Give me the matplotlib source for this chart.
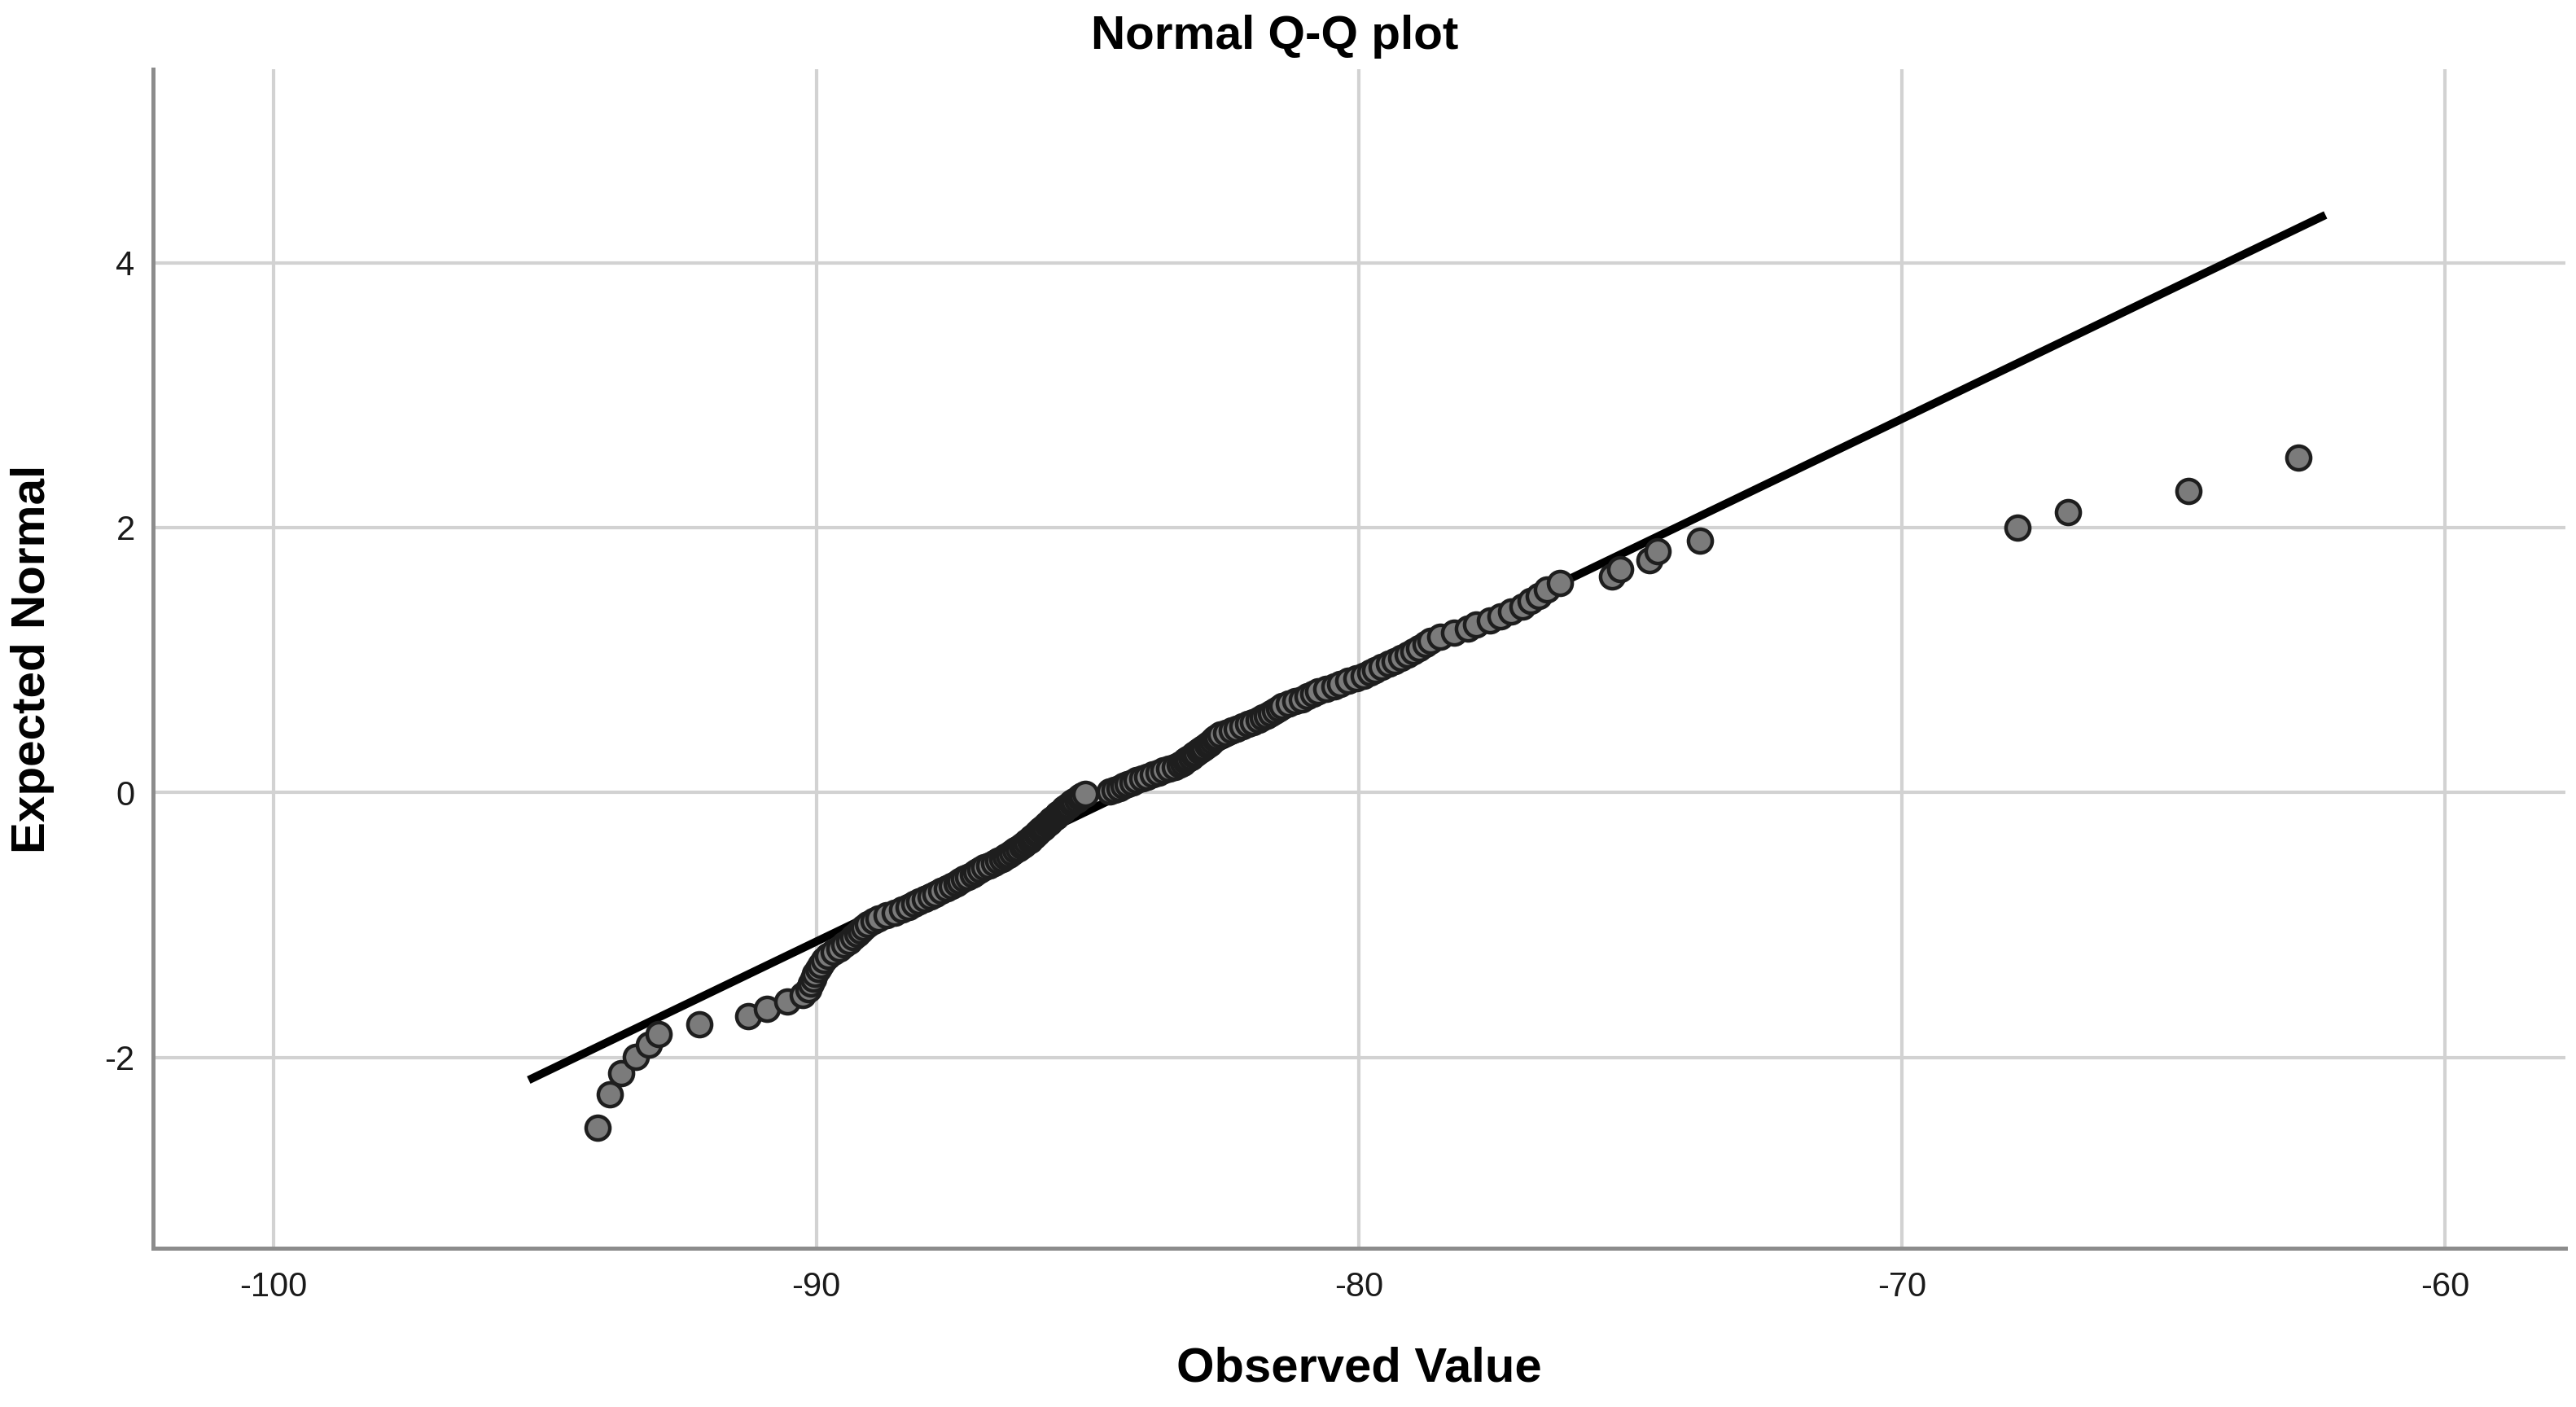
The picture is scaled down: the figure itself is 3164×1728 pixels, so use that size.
import matplotlib
matplotlib.use("Agg")
import matplotlib.pyplot as plt

plt.rcParams['font.family'] = ['Liberation Sans', 'DejaVu Sans']
plt.rcParams['axes.unicode_minus'] = False

observed = [
    -94.03, -93.80, -93.60, -93.33, -93.09, -92.90, -92.16, -91.26, -90.91, -90.54,
    -90.25, -90.15, -90.10, -90.06, -90.02, -89.97, -89.92, -89.86, -89.78, -89.68,
    -89.58, -89.48, -89.40, -89.32, -89.25, -89.18, -89.12, -89.05, -88.95, -88.85,
    -88.70, -88.55, -88.42, -88.30, -88.20, -88.10, -88.00, -87.90, -87.80, -87.70,
    -87.60, -87.50, -87.42, -87.35, -87.28, -87.20, -87.12, -87.05, -86.98, -86.90,
    -86.82, -86.72, -86.65, -86.58, -86.52, -86.46, -86.40, -86.34, -86.28, -86.22,
    -86.17, -86.12, -86.07, -86.03, -85.99, -85.95, -85.91, -85.87, -85.83, -85.79,
    -85.75, -85.71, -85.67, -85.63, -85.59, -85.55, -85.51, -85.47, -85.43, -85.39,
    -85.35, -85.30, -85.25, -85.20, -85.15, -85.10, -85.05,
    -84.60, -84.50, -84.42, -84.34, -84.26, -84.18, -84.10, -84.00, -83.90, -83.80,
    -83.70, -83.60, -83.50, -83.40, -83.30, -83.25, -83.20, -83.15, -83.10, -83.05,
    -83.00, -82.95, -82.90, -82.85, -82.80, -82.75, -82.70, -82.66, -82.62, -82.55,
    -82.45, -82.35, -82.25, -82.15, -82.05, -81.95, -81.85, -81.78, -81.70, -81.62,
    -81.55, -81.48, -81.42, -81.30, -81.18, -81.05, -80.95, -80.85, -80.75, -80.60,
    -80.45, -80.35, -80.20, -80.05, -79.92, -79.80, -79.70, -79.58, -79.45, -79.35,
    -79.22, -79.10, -79.00, -78.90, -78.78, -78.68, -78.50, -78.25, -78.00, -77.85,
    -77.60, -77.40, -77.20, -77.00, -76.85, -76.70, -76.55, -76.30, -75.35, -75.20,
    -74.65, -74.50, -73.73, -67.88, -66.94, -64.73, -62.70,
]

# Expected normal values
expected = [
    -2.530, -2.276, -2.117, -1.998, -1.902, -1.821, -1.751, -1.688, -1.631, -1.579,
    -1.531, -1.486, -1.444, -1.405, -1.368, -1.332, -1.298, -1.266, -1.235, -1.205,
    -1.175, -1.147, -1.120, -1.093, -1.068, -1.043, -1.018, -0.994, -0.971, -0.949,
    -0.926, -0.905, -0.883, -0.862, -0.842, -0.821, -0.802, -0.782, -0.763, -0.744,
    -0.725, -0.706, -0.688, -0.670, -0.652, -0.634, -0.617, -0.600, -0.583, -0.566,
    -0.549, -0.532, -0.516, -0.500, -0.484, -0.468, -0.452, -0.436, -0.420, -0.405,
    -0.389, -0.374, -0.358, -0.343, -0.328, -0.313, -0.298, -0.283, -0.268, -0.253,
    -0.239, -0.224, -0.209, -0.195, -0.180, -0.166, -0.151, -0.137, -0.122, -0.108,
    -0.093, -0.079, -0.065, -0.050, -0.036, -0.021, -0.007,
    0.007, 0.021, 0.036, 0.050, 0.065, 0.079, 0.093, 0.108, 0.122, 0.137,
    0.151, 0.166, 0.180, 0.195, 0.209, 0.224, 0.239, 0.253, 0.268, 0.283,
    0.298, 0.313, 0.328, 0.343, 0.358, 0.374, 0.389, 0.405, 0.420, 0.436,
    0.452, 0.468, 0.484, 0.500, 0.516, 0.532, 0.549, 0.566, 0.583, 0.600,
    0.617, 0.634, 0.652, 0.670, 0.688, 0.706, 0.725, 0.744, 0.763, 0.782,
    0.802, 0.821, 0.842, 0.862, 0.883, 0.905, 0.926, 0.949, 0.971, 0.994,
    1.018, 1.043, 1.068, 1.093, 1.120, 1.147, 1.175, 1.205, 1.235, 1.266,
    1.298, 1.332, 1.368, 1.405, 1.444, 1.486, 1.531, 1.579, 1.631, 1.688,
    1.751, 1.821, 1.902, 1.998, 2.117, 2.276, 2.530,
]

# Reference line end points
line_x = [-95.3, -62.2]
line_y = [-2.17, 4.36]

x_ticks = [-100, -90, -80, -70, -60]
y_ticks = [-2, 0, 2, 4]

fig = plt.figure(figsize=(15.82, 8.64), dpi=200)
ax = fig.add_axes([0.0594, 0.1128, 0.9365, 0.838])

ax.plot(line_x, line_y, color='black', lw=3.6, solid_capstyle='butt', zorder=3)
ax.plot(observed, expected, 'o', ms=10.5, mfc='#7b7b7b', mec='#1e1e1e', mew=1.6,
        linestyle='none', zorder=4)

ax.set_xlim(-102.22, -57.78)
ax.set_ylim(-3.44, 5.46)
ax.set_xticks(x_ticks)
ax.set_yticks(y_ticks)
ax.grid(True, color='#d2d2d2', lw=1.5, zorder=0)
ax.set_axisbelow(True)
ax.tick_params(length=0, labelsize=15, colors='#1a1a1a')
ax.tick_params(axis='x', pad=10)
ax.tick_params(axis='y', pad=8)

for side in ['top', 'right']:
    ax.spines[side].set_visible(False)
for side in ['left', 'bottom']:
    ax.spines[side].set_color('#8c8c8c')
    ax.spines[side].set_linewidth(1.8)

ax.set_xlabel('Observed Value', fontsize=21.5, fontweight='bold', labelpad=19)
ax.set_ylabel('Expected Normal', fontsize=21, fontweight='bold', labelpad=22)
fig.text(0.495, 0.974, 'Normal Q-Q plot', ha='center', va='center',
         fontsize=21, fontweight='bold')

fig.savefig('out.png', dpi=200)
